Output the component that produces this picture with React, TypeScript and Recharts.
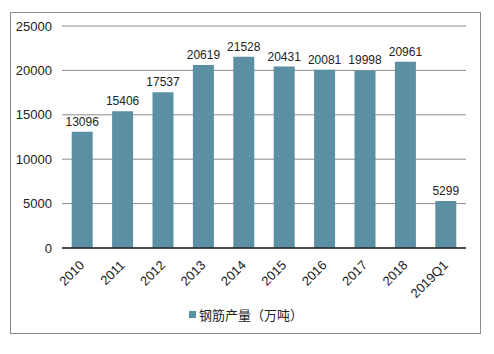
import { BarChart, Bar, XAxis, YAxis, CartesianGrid, LabelList } from 'recharts';

const years = ['2010', '2011', '2012', '2013', '2014', '2015', '2016', '2017', '2018', '2019Q1'];
const output = [13096, 15406, 17537, 20619, 21528, 20431, 20081, 19998, 20961, 5299];
const yTicks = [0, 5000, 10000, 15000, 20000, 25000];

const data = years.map((year, i) => ({ year, value: output[i] }));

const FONT = '"Liberation Sans", "Noto Sans CJK SC", sans-serif';

const XTick = (props: any) => {
  const { x, y, payload } = props;
  return (
    <text
      x={x + 3}
      y={y + 10}
      transform={`rotate(-45, ${x + 3}, ${y + 10})`}
      textAnchor="end"
      fontSize={13}
      fill="#222"
      fontFamily={FONT}
    >
      {payload.value}
    </text>
  );
};

export default function App() {
  return (
    <div style={{ position: 'absolute', left: 0, top: 0, width: 494, height: 354, background: '#fff', fontFamily: FONT }}>
      <div style={{ position: 'absolute', left: 10, top: 12, width: 469, height: 320, border: '1px solid #8a8a8a' }} />
      <BarChart
        width={494}
        height={354}
        data={data}
        margin={{ top: 26, right: 28, left: 0, bottom: 56 }}
        barCategoryGap="24%"
      >
        <CartesianGrid vertical={false} stroke="#8c8c8c" />
        <XAxis
          dataKey="year"
          height={50}
          interval={0}
          tickLine={false}
          axisLine={{ stroke: '#222', strokeWidth: 1.5 }}
          tick={<XTick />}
        />
        <YAxis
          width={62}
          domain={[0, 25000]}
          ticks={yTicks}
          axisLine={false}
          tickLine={false}
          tickMargin={4}
          tick={{ fontSize: 13, fill: '#222', fontFamily: FONT }}
        />
        <Bar dataKey="value" fill="#5b8fa4" isAnimationActive={false}>
          <LabelList dataKey="value" position="top" offset={6} fontSize={12} fill="#222" fontFamily={FONT} />
        </Bar>
      </BarChart>
      <div style={{ position: 'absolute', left: 189, top: 305, display: 'flex', alignItems: 'center', fontSize: 13, color: '#222', fontFamily: '"Noto Sans CJK SC", sans-serif' }}>
        <div style={{ width: 7, height: 7, background: '#5b8fa4', marginRight: 3 }} />
        钢筋产量（万吨）
      </div>
    </div>
  );
}
